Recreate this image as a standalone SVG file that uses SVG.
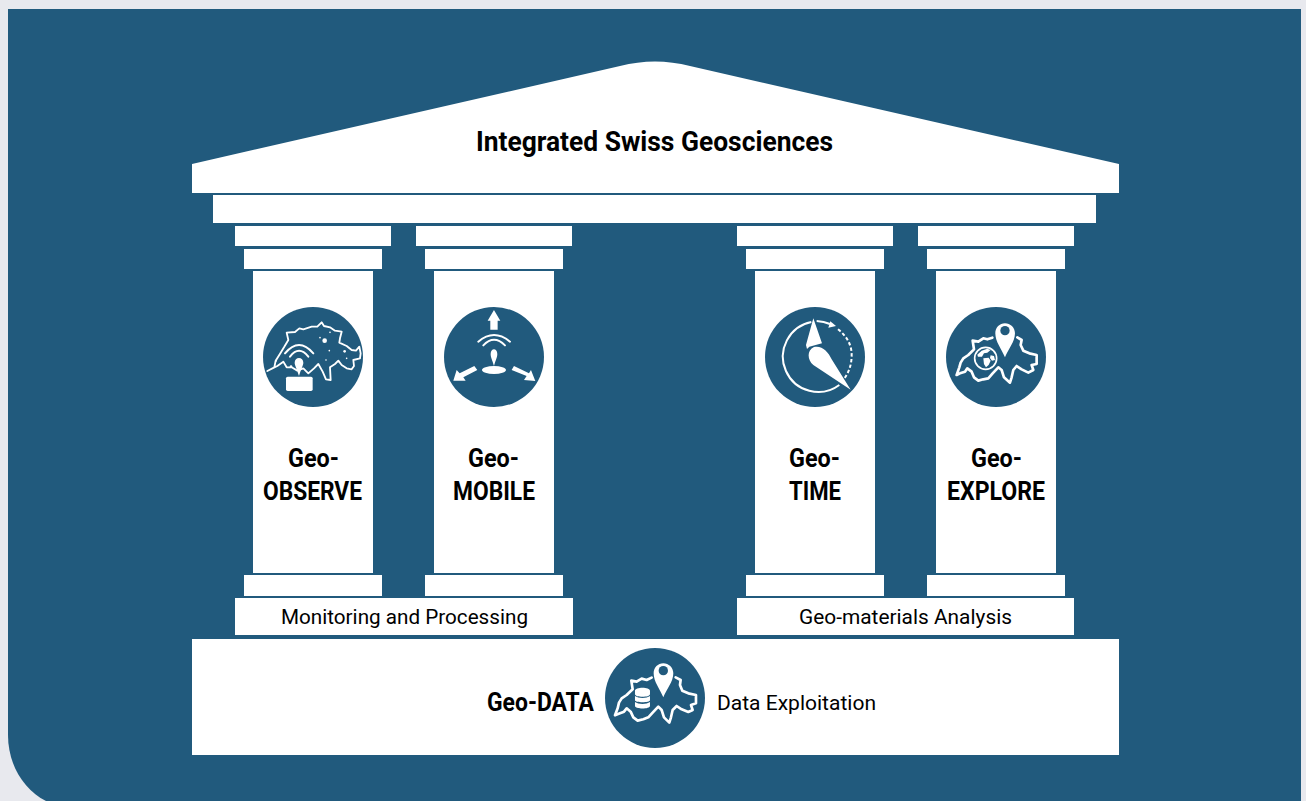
<svg xmlns="http://www.w3.org/2000/svg" width="1306" height="801" viewBox="0 0 1306 801">
<style>
.w{fill:#fff}
.d{fill:#215a7d}
.map{fill:none;stroke:#fff;stroke-width:8;stroke-linejoin:round;stroke-linecap:round}
.thin{stroke-width:5.5}
.arc{fill:none;stroke:#fff;stroke-width:6;stroke-linecap:round}
.b{font-family:Roboto,"Liberation Sans",sans-serif;font-weight:700;fill:#000}
.r{font-family:Roboto,"Liberation Sans",sans-serif;font-weight:400;fill:#000;font-size:21px}
.t{font-size:25px}
</style>
<defs>
<g id="col">
<rect class="w" x="0" y="226" width="156" height="20"/>
<rect class="w" x="9" y="249" width="138" height="20"/>
<rect class="w" x="18" y="271" width="120" height="302"/>
<rect class="w" x="9" y="575" width="138" height="21"/>
</g>
</defs>
<rect width="1306" height="801" fill="#e8e9ee"/>
<path class="d" d="M8 9H1301V801H46C24 790 8 765 8 735Z"/>
<g id="roof">
<path class="w" d="M192 164L620 66Q655 57 690 66L1119 164V193H192Z"/>
<text class="b" x="476" y="151" font-size="27" textLength="357" lengthAdjust="spacingAndGlyphs">Integrated Swiss Geosciences</text>
</g>
<g id="beam"><rect class="w" x="213" y="195" width="883" height="28"/></g>
<g id="connectors"></g>
<g id="geo-observe">
<use href="#col" x="235"/>
<circle class="d" cx="313" cy="357" r="50"/>
<g transform="translate(240 290) scale(.3333)">
<path class="map thin" d="M82 243L103 232 107 212 122 188 132 172 145 150 140 128 165 126 178 115 190 118 215 110 232 110 245 97 252 108 270 112 285 122 305 125 300 145 298 158 320 168 335 180 348 182 358 170 362 190 360 205 340 210 342 228 335 238 320 235 305 225 295 212 285 222 270 232 272 270 258 268 248 245 235 222 222 235 205 250 190 235 172 242 155 232 140 232 130 215 112 228 82 243Z"/>
<circle class="w" cx="254" cy="152" r="7"/>
<circle class="w" cx="314" cy="184" r="4"/><circle class="w" cx="268" cy="182" r="2.5"/><circle class="w" cx="258" cy="210" r="2.5"/><circle class="w" cx="320" cy="205" r="2.5"/><circle class="w" cx="270" cy="127" r="2.5"/><circle class="w" cx="153" cy="230" r="4"/><circle class="w" cx="108" cy="212" r="3"/><circle class="w" cx="240" cy="143" r="2.5"/>
<path class="arc" d="M135 190Q177 140 220 190"/>
<path class="arc" d="M150 200Q177 165 205 200"/>
<path class="w" d="M177 258C170 235 164 225 164 218C164 210 170 204 177 204C184 204 190 210 190 218C190 225 184 235 177 258Z"/>
<rect class="w" x="138" y="260" width="80" height="43" rx="5"/>
</g>
<text class="b t" x="288" y="467" textLength="51" lengthAdjust="spacingAndGlyphs">Geo-</text>
<text class="b t" x="263" y="500" textLength="99" lengthAdjust="spacingAndGlyphs">OBSERVE</text>
</g>
<g id="geo-mobile">
<use href="#col" x="416"/>
<circle class="d" cx="494" cy="357" r="50"/>
<g transform="translate(240 290) scale(.3333)">
<path class="w" d="M762 60L781 92H773V119H751V92H743Z"/>
<path class="w" d="M640 272L650 240 659 250 703 228 712 240 670 262 677 272Z"/>
<path class="w" d="M886 273L852 270 860 258 815 240 822 228 867 250 873 240Z"/>
<ellipse class="w" cx="762" cy="240" rx="36" ry="12"/>
<path class="arc" d="M715 155Q762 115 810 155"/>
<path class="arc" d="M730 166Q762 132 795 166"/>
<path class="w" d="M762 228C757 210 752 202 752 192C752 184 757 178 762 178C767 178 772 184 772 192C772 202 767 210 762 228Z"/>
</g>
<text class="b t" x="468" y="467" textLength="51" lengthAdjust="spacingAndGlyphs">Geo-</text>
<text class="b t" x="453" y="500" textLength="82" lengthAdjust="spacingAndGlyphs">MOBILE</text>
</g>
<g id="geo-time">
<use href="#col" x="737"/>
<circle class="d" cx="815" cy="357" r="50"/>
<g transform="translate(750 290) scale(.3333)">
<path class="arc" style="stroke-linecap:butt" d="M184 96A106 106 0 1 0 268 285"/>
<path class="arc" style="stroke-linecap:butt" d="M200 93Q222 94 240 102"/>
<path class="w" d="M258 108L235 113 241 94Z"/>
<path class="arc" style="stroke-dasharray:10 7;stroke-linecap:butt" d="M264 118Q305 150 305 195Q305 235 284 264"/>
<path class="w" d="M190 85L216 160 178 170 171 177 168 165Z"/>
<path class="w" d="M302 299L190 225C172 210 170 180 192 171C215 165 235 185 245 208Z"/>
</g>
<text class="b t" x="789" y="467" textLength="51" lengthAdjust="spacingAndGlyphs">Geo-</text>
<text class="b t" x="789" y="500" textLength="52" lengthAdjust="spacingAndGlyphs">TIME</text>
</g>
<g id="geo-explore">
<use href="#col" x="918"/>
<circle class="d" cx="996" cy="357" r="50"/>
<g transform="translate(750 290) scale(.3333)">
<path class="map" d="M727 143L712 148 700 145 685 155 668 152 672 178 655 195 640 205 632 218 628 232 620 255 630 250 645 245 652 235 665 245 672 262 685 272 700 268 715 265 728 250 745 232 755 240 762 262 780 278 785 262 790 240 800 228 815 238 835 248 850 240 845 225 860 222 860 195 838 190 820 182 812 165 815 150 802 142"/>
<circle cx="707" cy="205" r="33" fill="#215a7d" stroke="#fff" stroke-width="5"/>
<path class="w" d="M695 182L712 176 722 180 712 188 702 190 696 200 684 200 682 194ZM700 205L716 203 722 212 716 225 708 232 702 222ZM722 196L732 198 735 210 726 212 720 204Z"/>
<path class="w" d="M765 202C755 178 736 155 736 130C736 113 749 100 765 100C781 100 795 113 795 130C795 155 775 178 765 202Z"/>
<circle class="d" cx="765" cy="122" r="14"/>
</g>
<text class="b t" x="971" y="467" textLength="51" lengthAdjust="spacingAndGlyphs">Geo-</text>
<text class="b t" x="947" y="500" textLength="98" lengthAdjust="spacingAndGlyphs">EXPLORE</text>
</g>
<g id="monitoring"><rect class="w" x="235" y="598" width="338" height="37"/>
<text class="r" x="281" y="624" textLength="247" lengthAdjust="spacingAndGlyphs">Monitoring and Processing</text></g>
<g id="materials"><rect class="w" x="737" y="598" width="337" height="37"/>
<text class="r" x="799" y="624" textLength="213" lengthAdjust="spacingAndGlyphs">Geo-materials Analysis</text></g>
<g id="geo-data">
<rect class="w" x="192" y="639" width="927" height="116"/>
<circle class="d" cx="655" cy="698" r="50"/>
<g transform="translate(470 630) scale(.3333)">
<path class="map" d="M545 143L530 150 515 146 500 155 484 152 488 178 470 195 455 205 447 218 443 235 435 256 450 250 462 245 470 235 482 245 490 262 503 272 520 268 535 262 548 248 565 230 575 240 582 262 598 278 603 262 608 240 620 228 635 238 655 246 668 240 663 225 678 220 678 195 655 190 637 182 630 165 632 150 617 142"/>
<path class="w" d="M495 182C495 170 540 170 540 182V193C540 203 495 203 495 193ZM495 198C505 206 530 206 540 198V211C540 219 495 219 495 211ZM495 216C505 224 530 224 540 216V228C540 238 495 238 495 228Z"/>
<path class="w" d="M580 202C570 178 551 155 551 130C551 113 564 100 580 100C596 100 610 113 610 130C610 155 590 178 580 202Z"/>
<circle class="d" cx="580" cy="122" r="14"/>
</g>
<text class="b t" x="487" y="711" textLength="107" lengthAdjust="spacingAndGlyphs">Geo-DATA</text>
<text class="r" x="717" y="710" textLength="159" lengthAdjust="spacingAndGlyphs">Data Exploitation</text>
</g>
</svg>
